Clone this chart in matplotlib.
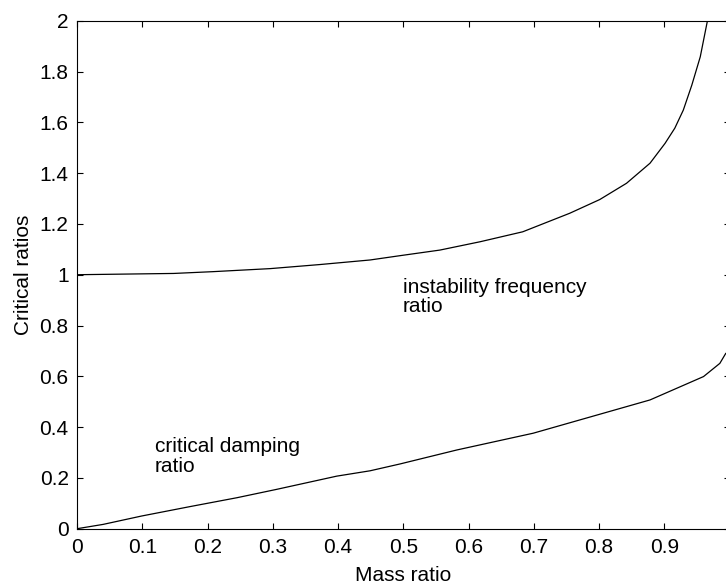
import matplotlib.pyplot as plt

plt.rcParams['font.family'] = ['Liberation Sans', 'DejaVu Sans']

# Instability frequency ratio (upper curve)
mass_freq = [0.0, 0.148, 0.208, 0.296, 0.372, 0.449, 0.495, 0.556, 0.618,
             0.683, 0.755, 0.801, 0.842, 0.878, 0.901, 0.916, 0.929, 0.942,
             0.955, 0.966]
freq_ratio = [1.0, 1.005, 1.012, 1.024, 1.04, 1.058, 1.075, 1.097, 1.13,
              1.169, 1.242, 1.296, 1.36, 1.439, 1.517, 1.577, 1.648, 1.746,
              1.858, 2.0]

# Critical damping ratio (lower curve)
mass_damp = [0.0, 0.04, 0.099, 0.173, 0.245, 0.306, 0.398, 0.449, 0.495,
             0.582, 0.699, 0.796, 0.878, 0.96, 0.985, 0.994]
damp_ratio = [0.0, 0.017, 0.05, 0.087, 0.122, 0.155, 0.207, 0.228, 0.255,
              0.31, 0.376, 0.447, 0.507, 0.599, 0.651, 0.69]

fig = plt.figure(figsize=(7.26, 5.87), dpi=100)
ax = fig.add_axes([0.1061, 0.0993, 0.8989, 0.8654])

ax.plot(mass_freq, freq_ratio, color='black', linewidth=0.9)
ax.plot(mass_damp, damp_ratio, color='black', linewidth=0.9)

ax.set_xlim(0, 1)
ax.set_ylim(0, 2)
ax.set_xticks([0, 0.1, 0.2, 0.3, 0.4, 0.5, 0.6, 0.7, 0.8, 0.9])
ax.set_xticklabels(['0', '0.1', '0.2', '0.3', '0.4', '0.5', '0.6', '0.7', '0.8', '0.9'])
ax.set_yticks([0, 0.2, 0.4, 0.6, 0.8, 1, 1.2, 1.4, 1.6, 1.8, 2])
ax.set_yticklabels(['0', '0.2', '0.4', '0.6', '0.8', '1', '1.2', '1.4', '1.6', '1.8', '2'])
ax.tick_params(direction='in', top=True, right=True, length=4.5, width=0.8,
               labelsize=15)
ax.tick_params(axis='x', pad=7)
ax.tick_params(axis='y', pad=6)
for s in ax.spines.values():
    s.set_linewidth(0.8)

ax.set_xlabel('Mass ratio', fontsize=15)
ax.xaxis.set_label_coords(0.5, -0.074)
ax.set_ylabel('Critical ratios', fontsize=15)
ax.yaxis.set_label_coords(-0.068, 0.5)

ax.text(0.499, 0.912, 'instability frequency\nratio', fontsize=15,
        ha='left', va='center', linespacing=1.05)
ax.text(0.1195, 0.284, 'critical damping\nratio', fontsize=15,
        ha='left', va='center', linespacing=1.05)

fig.savefig('out.png', dpi=100)
